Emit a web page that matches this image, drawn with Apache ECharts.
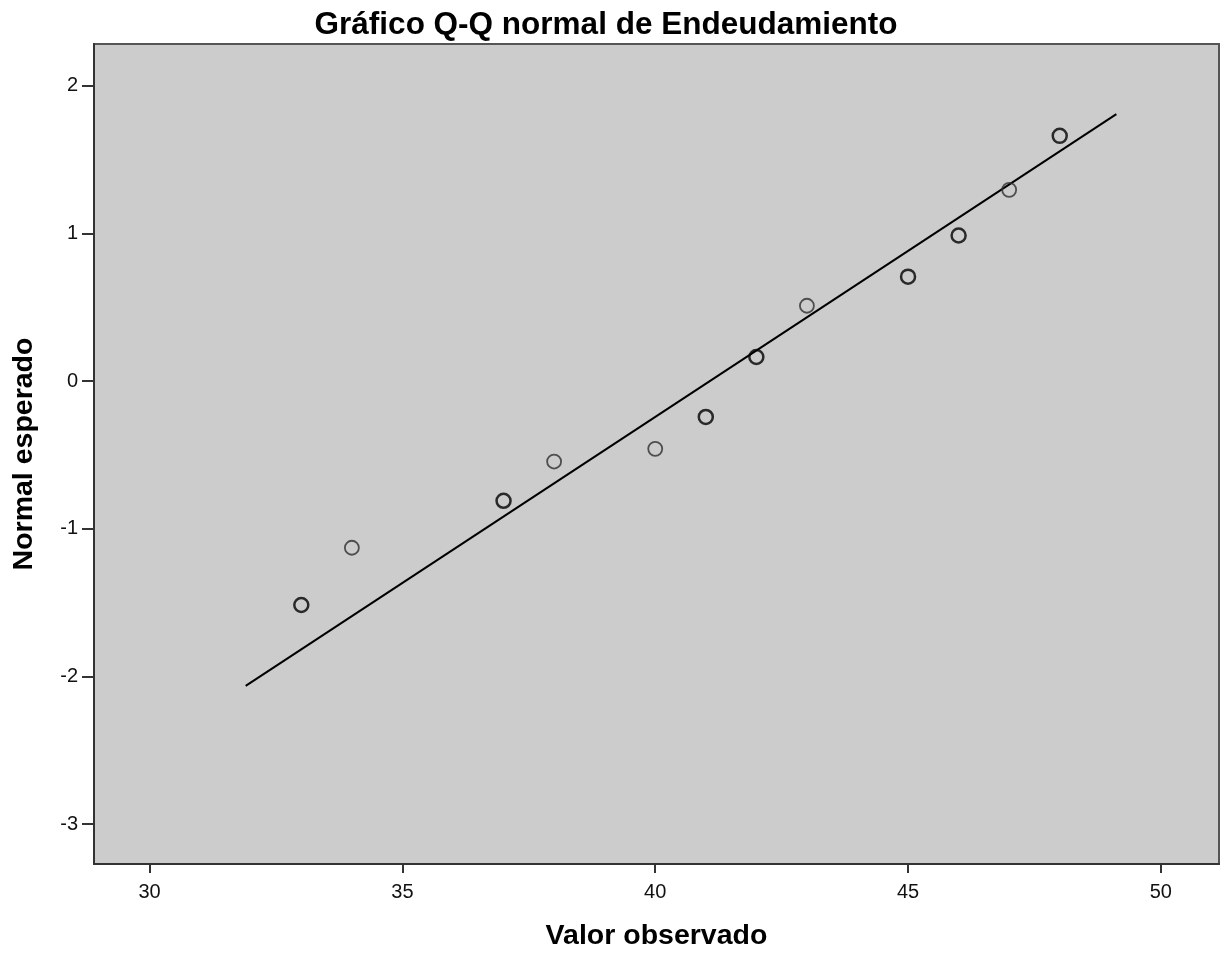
<!DOCTYPE html>
<html>
<head>
<meta charset="utf-8">
<script src="https://cdn.jsdelivr.net/npm/echarts@6/dist/echarts.min.js"></script>
<style>
html,body{margin:0;padding:0;background:#fff;}
#chart{width:1227px;height:956px;}
</style>
</head>
<body>
<div id="chart"></div>
<script>
// ---- data ----
var chartTitle = 'Gráfico Q-Q normal de Endeudamiento';
var xAxisName = 'Valor observado';
var yAxisName = 'Normal esperado';
var observed = [33, 34, 37, 38, 40, 41, 42, 43, 45, 46, 47, 48];
var expectedNormal = [-1.516, -1.128, -0.81, -0.544, -0.458, -0.242, 0.164, 0.511, 0.708, 0.987, 1.296, 1.662];
var lineX = [31.9, 49.12];
var lineY = [-2.064, 1.809];
var xTicks = [30, 35, 40, 45, 50];
var yTicks = [-3, -2, -1, 0, 1, 2];

// style only: points drawn darker (overlapping marks)
var darkIdx = [0, 2, 5, 6, 8, 9, 11];

var font = '"Liberation Sans", Arial, sans-serif';
var chart = echarts.init(document.getElementById('chart'), null, {renderer: 'canvas'});

var pts = observed.map(function (x, i) {
  var dark = darkIdx.indexOf(i) >= 0;
  return {
    value: [x, expectedNormal[i]],
    itemStyle: {color: 'rgba(0,0,0,0)', borderColor: dark ? '#000' : '#2e2e2e', borderWidth: dark ? 2.5 : 1.8}
  };
});

var option = {
  backgroundColor: '#ffffff',
  animation: false,
  graphic: [{
    type: 'text', x: 606, y: 9,
    style: {text: chartTitle, font: 'bold 31.5px ' + font, fill: '#000', align: 'center', verticalAlign: 'top'}
  }],
  grid: {
    left: 94, right: 8, top: 44, bottom: 91,
    show: true, backgroundColor: '#cccccc', borderColor: '#555555', borderWidth: 2
  },
  xAxis: {
    type: 'value', min: 28.9, max: 51.15,
    name: xAxisName, nameLocation: 'middle', nameGap: 58,
    nameTextStyle: {fontFamily: font, fontWeight: 'bold', fontSize: 28.5, color: '#000'},
    axisLine: {show: true, onZero: false, lineStyle: {color: '#333', width: 2}},
    axisTick: {show: true, customValues: xTicks, length: 9, lineStyle: {color: '#333', width: 2}},
    axisLabel: {customValues: xTicks, fontFamily: font, fontSize: 20, color: '#111', margin: 18},
    splitLine: {show: false}
  },
  yAxis: {
    type: 'value', min: -3.27, max: 2.284,
    name: yAxisName, nameLocation: 'middle', nameGap: 55,
    nameTextStyle: {fontFamily: font, fontWeight: 'bold', fontSize: 28.5, color: '#000'},
    axisLine: {show: true, onZero: false, lineStyle: {color: '#333', width: 2}},
    axisTick: {show: true, customValues: yTicks, length: 12, lineStyle: {color: '#333', width: 2}},
    axisLabel: {customValues: yTicks, fontFamily: font, fontSize: 20, color: '#111', margin: 16},
    splitLine: {show: false}
  },
  series: [
    {
      type: 'line',
      data: lineX.map(function (x, i) { return [x, lineY[i]]; }),
      showSymbol: false, symbol: 'none',
      lineStyle: {color: '#000', width: 2},
      z: 2
    },
    {
      type: 'scatter',
      symbol: 'circle', symbolSize: 14,
      data: pts,
      z: 3
    }
  ]
};
chart.setOption(option);
</script>
</body>
</html>
